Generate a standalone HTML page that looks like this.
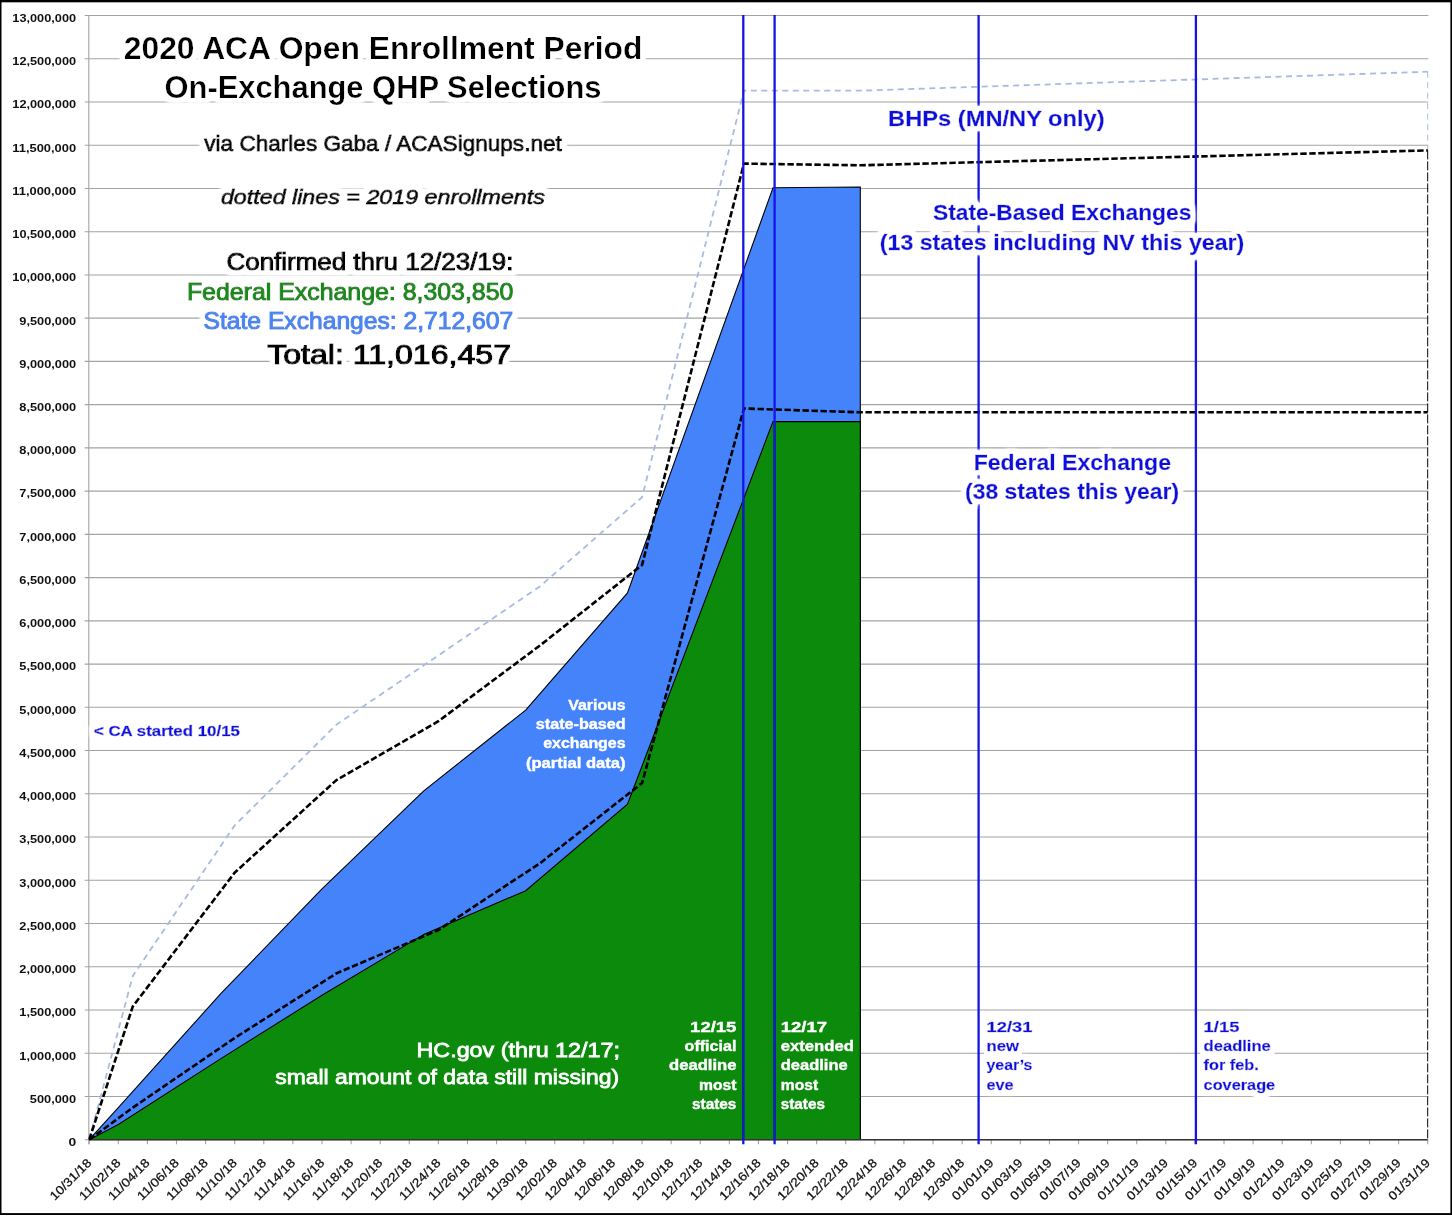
<!DOCTYPE html>
<html lang="en"><head><meta charset="utf-8">
<title>2020 ACA Open Enrollment Period On-Exchange QHP Selections</title>
<style>
html,body{margin:0;padding:0;background:#fff;}
body{width:1452px;height:1216px;overflow:hidden;}
svg{display:block;}
text{font-family:"Liberation Sans",sans-serif;}
.yl{font-size:11.8px;font-weight:bold;fill:#111;text-anchor:end;}
.xl{font-size:12.2px;fill:#111;stroke:#111;stroke-width:0.25px;text-anchor:end;}
.hal{filter:url(#halo);}
.bk{fill:#000;}
.nv{fill:#1010dc;}
.wh{fill:#fff;}
.b{font-weight:bold;}
</style></head><body>
<svg width="1452" height="1216" viewBox="0 0 1452 1216">
<defs>
<filter id="halo" x="-5%" y="-40%" width="110%" height="180%">
<feMorphology in="SourceAlpha" operator="dilate" radius="4.2" result="d"/>
<feGaussianBlur in="d" stdDeviation="1.6" result="bl"/>
<feComponentTransfer in="bl" result="bo"><feFuncA type="linear" slope="2.2" intercept="0"/></feComponentTransfer>
<feFlood flood-color="#ffffff" result="w"/>
<feComposite in="w" in2="bo" operator="in" result="h"/>
<feMerge><feMergeNode in="h"/><feMergeNode in="SourceGraphic"/></feMerge>
</filter>
<clipPath id="plot"><rect x="88.2" y="14.5" width="1340.7" height="1126.7"/></clipPath>
</defs>
<rect x="0" y="0" width="1452" height="1216" fill="#fff"/>
<g stroke="#a3a3a3" stroke-width="1.1" fill="none">
<line x1="84.7" y1="1139.70" x2="1428.3" y2="1139.70"/>
<line x1="84.7" y1="1096.46" x2="1428.3" y2="1096.46"/>
<line x1="84.7" y1="1053.22" x2="1428.3" y2="1053.22"/>
<line x1="84.7" y1="1009.98" x2="1428.3" y2="1009.98"/>
<line x1="84.7" y1="966.75" x2="1428.3" y2="966.75"/>
<line x1="84.7" y1="923.51" x2="1428.3" y2="923.51"/>
<line x1="84.7" y1="880.27" x2="1428.3" y2="880.27"/>
<line x1="84.7" y1="837.03" x2="1428.3" y2="837.03"/>
<line x1="84.7" y1="793.79" x2="1428.3" y2="793.79"/>
<line x1="84.7" y1="750.55" x2="1428.3" y2="750.55"/>
<line x1="84.7" y1="707.32" x2="1428.3" y2="707.32"/>
<line x1="84.7" y1="664.08" x2="1428.3" y2="664.08"/>
<line x1="84.7" y1="620.84" x2="1428.3" y2="620.84"/>
<line x1="84.7" y1="577.60" x2="1428.3" y2="577.60"/>
<line x1="84.7" y1="534.36" x2="1428.3" y2="534.36"/>
<line x1="84.7" y1="491.12" x2="1428.3" y2="491.12"/>
<line x1="84.7" y1="447.88" x2="1428.3" y2="447.88"/>
<line x1="84.7" y1="404.65" x2="1428.3" y2="404.65"/>
<line x1="84.7" y1="361.41" x2="1428.3" y2="361.41"/>
<line x1="84.7" y1="318.17" x2="1428.3" y2="318.17"/>
<line x1="84.7" y1="274.93" x2="1428.3" y2="274.93"/>
<line x1="84.7" y1="231.69" x2="1428.3" y2="231.69"/>
<line x1="84.7" y1="188.45" x2="1428.3" y2="188.45"/>
<line x1="84.7" y1="145.22" x2="1428.3" y2="145.22"/>
<line x1="84.7" y1="101.98" x2="1428.3" y2="101.98"/>
<line x1="84.7" y1="58.74" x2="1428.3" y2="58.74"/>
<line x1="84.7" y1="15.50" x2="1428.3" y2="15.50"/>
<line x1="88.8" y1="15.5" x2="88.8" y2="1144.2"/>
<line x1="89.20" y1="1139.7" x2="89.20" y2="1144.3"/>
<line x1="118.30" y1="1139.7" x2="118.30" y2="1144.3"/>
<line x1="147.40" y1="1139.7" x2="147.40" y2="1144.3"/>
<line x1="176.49" y1="1139.7" x2="176.49" y2="1144.3"/>
<line x1="205.59" y1="1139.7" x2="205.59" y2="1144.3"/>
<line x1="234.69" y1="1139.7" x2="234.69" y2="1144.3"/>
<line x1="263.79" y1="1139.7" x2="263.79" y2="1144.3"/>
<line x1="292.88" y1="1139.7" x2="292.88" y2="1144.3"/>
<line x1="321.98" y1="1139.7" x2="321.98" y2="1144.3"/>
<line x1="351.08" y1="1139.7" x2="351.08" y2="1144.3"/>
<line x1="380.18" y1="1139.7" x2="380.18" y2="1144.3"/>
<line x1="409.28" y1="1139.7" x2="409.28" y2="1144.3"/>
<line x1="438.37" y1="1139.7" x2="438.37" y2="1144.3"/>
<line x1="467.47" y1="1139.7" x2="467.47" y2="1144.3"/>
<line x1="496.57" y1="1139.7" x2="496.57" y2="1144.3"/>
<line x1="525.67" y1="1139.7" x2="525.67" y2="1144.3"/>
<line x1="554.77" y1="1139.7" x2="554.77" y2="1144.3"/>
<line x1="583.86" y1="1139.7" x2="583.86" y2="1144.3"/>
<line x1="612.96" y1="1139.7" x2="612.96" y2="1144.3"/>
<line x1="642.06" y1="1139.7" x2="642.06" y2="1144.3"/>
<line x1="671.16" y1="1139.7" x2="671.16" y2="1144.3"/>
<line x1="700.25" y1="1139.7" x2="700.25" y2="1144.3"/>
<line x1="729.35" y1="1139.7" x2="729.35" y2="1144.3"/>
<line x1="758.45" y1="1139.7" x2="758.45" y2="1144.3"/>
<line x1="787.55" y1="1139.7" x2="787.55" y2="1144.3"/>
<line x1="816.65" y1="1139.7" x2="816.65" y2="1144.3"/>
<line x1="845.74" y1="1139.7" x2="845.74" y2="1144.3"/>
<line x1="874.84" y1="1139.7" x2="874.84" y2="1144.3"/>
<line x1="903.94" y1="1139.7" x2="903.94" y2="1144.3"/>
<line x1="933.04" y1="1139.7" x2="933.04" y2="1144.3"/>
<line x1="962.13" y1="1139.7" x2="962.13" y2="1144.3"/>
<line x1="991.23" y1="1139.7" x2="991.23" y2="1144.3"/>
<line x1="1020.33" y1="1139.7" x2="1020.33" y2="1144.3"/>
<line x1="1049.43" y1="1139.7" x2="1049.43" y2="1144.3"/>
<line x1="1078.53" y1="1139.7" x2="1078.53" y2="1144.3"/>
<line x1="1107.62" y1="1139.7" x2="1107.62" y2="1144.3"/>
<line x1="1136.72" y1="1139.7" x2="1136.72" y2="1144.3"/>
<line x1="1165.82" y1="1139.7" x2="1165.82" y2="1144.3"/>
<line x1="1194.92" y1="1139.7" x2="1194.92" y2="1144.3"/>
<line x1="1224.02" y1="1139.7" x2="1224.02" y2="1144.3"/>
<line x1="1253.11" y1="1139.7" x2="1253.11" y2="1144.3"/>
<line x1="1282.21" y1="1139.7" x2="1282.21" y2="1144.3"/>
<line x1="1311.31" y1="1139.7" x2="1311.31" y2="1144.3"/>
<line x1="1340.41" y1="1139.7" x2="1340.41" y2="1144.3"/>
<line x1="1369.50" y1="1139.7" x2="1369.50" y2="1144.3"/>
<line x1="1398.60" y1="1139.7" x2="1398.60" y2="1144.3"/>
<line x1="1427.70" y1="1139.7" x2="1427.70" y2="1144.3"/>
</g>
<polygon points="89.2,1139.7 118.3,1107.7 220.1,994.4 322.0,888.9 423.8,790.8 525.7,710.1 627.5,592.9 773.0,187.8 860.3,187.0 860.3,1139.7 89.2,1139.7" fill="#4483fa"/>
<polyline points="89.2,1139.7 118.3,1107.7 220.1,994.4 322.0,888.9 423.8,790.8 525.7,710.1 627.5,592.9 773.0,187.8 860.3,187.0 860.3,1139.7" fill="none" stroke="#000" stroke-width="1.1"/>
<polygon points="89.2,1139.7 118.3,1124.4 220.1,1059.1 322.0,995.3 423.8,934.4 525.7,890.7 627.5,804.2 773.0,421.6 860.3,421.6 860.3,1139.7 89.2,1139.7" fill="#0b8a0b"/>
<polyline points="89.2,1139.7 118.3,1124.4 220.1,1059.1 322.0,995.3 423.8,934.4 525.7,890.7 627.5,804.2 773.0,421.6 860.3,421.6 860.3,1139.7" fill="none" stroke="#000" stroke-width="1.1"/>
<line x1="89.2" y1="1139.8" x2="1427.7" y2="1139.8" stroke="#333" stroke-width="1.4"/>
<g fill="none" clip-path="url(#plot)">
<polyline points="89.2,1139.7 132.8,975.9 234.7,825.4 336.5,724.6 438.4,655.4 540.2,586.2 642.1,497.2 743.9,90.7 860.3,90.7 1427.7,71.7" stroke="#a7bae2" stroke-width="1.8" stroke-dasharray="6 4.5"/>
<polyline points="1427.7,71.7 1427.7,150.4" stroke="#a7bae2" stroke-width="1" stroke-dasharray="6 4.5"/>
<polyline points="1427.7,150.4 1427.7,1139.7" stroke="#000" stroke-width="1" stroke-dasharray="9 2"/>
<polyline points="89.2,1139.7 132.8,1006.4 234.7,872.6 336.5,780.0 438.4,721.2 540.2,645.3 642.1,564.9 743.9,163.6 860.3,165.3 1427.7,150.4" stroke="#000" stroke-width="2.6" stroke-dasharray="6.4 2.6"/>
<polyline points="89.2,1139.7 132.8,1107.6 234.7,1038.0 336.5,973.3 438.4,930.0 540.2,863.1 642.1,783.0 743.9,408.5 860.3,412.3 1427.7,412.3" stroke="#000" stroke-width="2.6" stroke-dasharray="6.4 2.6"/>
</g>
<g stroke="#1414e6" stroke-width="2.3">
<line x1="743.3" y1="15.0" x2="743.3" y2="1144.2"/>
<line x1="774.6" y1="15.0" x2="774.6" y2="1144.2"/>
<line x1="978.6" y1="15.0" x2="978.6" y2="1144.2"/>
<line x1="1195.9" y1="15.0" x2="1195.9" y2="1144.2"/>
</g>
<g stroke="#0c22b0" stroke-width="2.3">
<line x1="743.3" y1="499" x2="743.3" y2="1139.7"/>
<line x1="774.6" y1="422.5" x2="774.6" y2="1139.7"/>
</g>
<g class="yl">
<text x="76.1" y="1146.0" textLength="7.7" lengthAdjust="spacingAndGlyphs">0</text>
<text x="76.1" y="1102.8" textLength="46.3" lengthAdjust="spacingAndGlyphs">500,000</text>
<text x="76.1" y="1059.5" textLength="56.8" lengthAdjust="spacingAndGlyphs">1,000,000</text>
<text x="76.1" y="1016.3" textLength="56.8" lengthAdjust="spacingAndGlyphs">1,500,000</text>
<text x="76.1" y="973.0" textLength="56.8" lengthAdjust="spacingAndGlyphs">2,000,000</text>
<text x="76.1" y="929.8" textLength="56.8" lengthAdjust="spacingAndGlyphs">2,500,000</text>
<text x="76.1" y="886.6" textLength="56.8" lengthAdjust="spacingAndGlyphs">3,000,000</text>
<text x="76.1" y="843.3" textLength="56.8" lengthAdjust="spacingAndGlyphs">3,500,000</text>
<text x="76.1" y="800.1" textLength="56.8" lengthAdjust="spacingAndGlyphs">4,000,000</text>
<text x="76.1" y="756.9" textLength="56.8" lengthAdjust="spacingAndGlyphs">4,500,000</text>
<text x="76.1" y="713.6" textLength="56.8" lengthAdjust="spacingAndGlyphs">5,000,000</text>
<text x="76.1" y="670.4" textLength="56.8" lengthAdjust="spacingAndGlyphs">5,500,000</text>
<text x="76.1" y="627.1" textLength="56.8" lengthAdjust="spacingAndGlyphs">6,000,000</text>
<text x="76.1" y="583.9" textLength="56.8" lengthAdjust="spacingAndGlyphs">6,500,000</text>
<text x="76.1" y="540.7" textLength="56.8" lengthAdjust="spacingAndGlyphs">7,000,000</text>
<text x="76.1" y="497.4" textLength="56.8" lengthAdjust="spacingAndGlyphs">7,500,000</text>
<text x="76.1" y="454.2" textLength="56.8" lengthAdjust="spacingAndGlyphs">8,000,000</text>
<text x="76.1" y="410.9" textLength="56.8" lengthAdjust="spacingAndGlyphs">8,500,000</text>
<text x="76.1" y="367.7" textLength="56.8" lengthAdjust="spacingAndGlyphs">9,000,000</text>
<text x="76.1" y="324.5" textLength="56.8" lengthAdjust="spacingAndGlyphs">9,500,000</text>
<text x="76.1" y="281.2" textLength="63.8" lengthAdjust="spacingAndGlyphs">10,000,000</text>
<text x="76.1" y="238.0" textLength="63.8" lengthAdjust="spacingAndGlyphs">10,500,000</text>
<text x="76.1" y="194.8" textLength="63.8" lengthAdjust="spacingAndGlyphs">11,000,000</text>
<text x="76.1" y="151.5" textLength="63.8" lengthAdjust="spacingAndGlyphs">11,500,000</text>
<text x="76.1" y="108.3" textLength="63.8" lengthAdjust="spacingAndGlyphs">12,000,000</text>
<text x="76.1" y="65.0" textLength="63.8" lengthAdjust="spacingAndGlyphs">12,500,000</text>
<text x="76.1" y="21.8" textLength="63.8" lengthAdjust="spacingAndGlyphs">13,000,000</text>
</g>
<g class="xl">
<text transform="translate(92.3,1163.6) rotate(-45)" textLength="53" lengthAdjust="spacingAndGlyphs">10/31/18</text>
<text transform="translate(121.4,1163.6) rotate(-45)" textLength="53" lengthAdjust="spacingAndGlyphs">11/02/18</text>
<text transform="translate(150.5,1163.6) rotate(-45)" textLength="53" lengthAdjust="spacingAndGlyphs">11/04/18</text>
<text transform="translate(179.6,1163.6) rotate(-45)" textLength="53" lengthAdjust="spacingAndGlyphs">11/06/18</text>
<text transform="translate(208.7,1163.6) rotate(-45)" textLength="53" lengthAdjust="spacingAndGlyphs">11/08/18</text>
<text transform="translate(237.8,1163.6) rotate(-45)" textLength="53" lengthAdjust="spacingAndGlyphs">11/10/18</text>
<text transform="translate(266.9,1163.6) rotate(-45)" textLength="53" lengthAdjust="spacingAndGlyphs">11/12/18</text>
<text transform="translate(296.0,1163.6) rotate(-45)" textLength="53" lengthAdjust="spacingAndGlyphs">11/14/18</text>
<text transform="translate(325.1,1163.6) rotate(-45)" textLength="53" lengthAdjust="spacingAndGlyphs">11/16/18</text>
<text transform="translate(354.2,1163.6) rotate(-45)" textLength="53" lengthAdjust="spacingAndGlyphs">11/18/18</text>
<text transform="translate(383.3,1163.6) rotate(-45)" textLength="53" lengthAdjust="spacingAndGlyphs">11/20/18</text>
<text transform="translate(412.4,1163.6) rotate(-45)" textLength="53" lengthAdjust="spacingAndGlyphs">11/22/18</text>
<text transform="translate(441.5,1163.6) rotate(-45)" textLength="53" lengthAdjust="spacingAndGlyphs">11/24/18</text>
<text transform="translate(470.6,1163.6) rotate(-45)" textLength="53" lengthAdjust="spacingAndGlyphs">11/26/18</text>
<text transform="translate(499.7,1163.6) rotate(-45)" textLength="53" lengthAdjust="spacingAndGlyphs">11/28/18</text>
<text transform="translate(528.8,1163.6) rotate(-45)" textLength="53" lengthAdjust="spacingAndGlyphs">11/30/18</text>
<text transform="translate(557.9,1163.6) rotate(-45)" textLength="53" lengthAdjust="spacingAndGlyphs">12/02/18</text>
<text transform="translate(587.0,1163.6) rotate(-45)" textLength="53" lengthAdjust="spacingAndGlyphs">12/04/18</text>
<text transform="translate(616.1,1163.6) rotate(-45)" textLength="53" lengthAdjust="spacingAndGlyphs">12/06/18</text>
<text transform="translate(645.2,1163.6) rotate(-45)" textLength="53" lengthAdjust="spacingAndGlyphs">12/08/18</text>
<text transform="translate(674.3,1163.6) rotate(-45)" textLength="53" lengthAdjust="spacingAndGlyphs">12/10/18</text>
<text transform="translate(703.4,1163.6) rotate(-45)" textLength="53" lengthAdjust="spacingAndGlyphs">12/12/18</text>
<text transform="translate(732.5,1163.6) rotate(-45)" textLength="53" lengthAdjust="spacingAndGlyphs">12/14/18</text>
<text transform="translate(761.6,1163.6) rotate(-45)" textLength="53" lengthAdjust="spacingAndGlyphs">12/16/18</text>
<text transform="translate(790.6,1163.6) rotate(-45)" textLength="53" lengthAdjust="spacingAndGlyphs">12/18/18</text>
<text transform="translate(819.7,1163.6) rotate(-45)" textLength="53" lengthAdjust="spacingAndGlyphs">12/20/18</text>
<text transform="translate(848.8,1163.6) rotate(-45)" textLength="53" lengthAdjust="spacingAndGlyphs">12/22/18</text>
<text transform="translate(877.9,1163.6) rotate(-45)" textLength="53" lengthAdjust="spacingAndGlyphs">12/24/18</text>
<text transform="translate(907.0,1163.6) rotate(-45)" textLength="53" lengthAdjust="spacingAndGlyphs">12/26/18</text>
<text transform="translate(936.1,1163.6) rotate(-45)" textLength="53" lengthAdjust="spacingAndGlyphs">12/28/18</text>
<text transform="translate(965.2,1163.6) rotate(-45)" textLength="53" lengthAdjust="spacingAndGlyphs">12/30/18</text>
<text transform="translate(994.3,1163.6) rotate(-45)" textLength="53" lengthAdjust="spacingAndGlyphs">01/01/19</text>
<text transform="translate(1023.4,1163.6) rotate(-45)" textLength="53" lengthAdjust="spacingAndGlyphs">01/03/19</text>
<text transform="translate(1052.5,1163.6) rotate(-45)" textLength="53" lengthAdjust="spacingAndGlyphs">01/05/19</text>
<text transform="translate(1081.6,1163.6) rotate(-45)" textLength="53" lengthAdjust="spacingAndGlyphs">01/07/19</text>
<text transform="translate(1110.7,1163.6) rotate(-45)" textLength="53" lengthAdjust="spacingAndGlyphs">01/09/19</text>
<text transform="translate(1139.8,1163.6) rotate(-45)" textLength="53" lengthAdjust="spacingAndGlyphs">01/11/19</text>
<text transform="translate(1168.9,1163.6) rotate(-45)" textLength="53" lengthAdjust="spacingAndGlyphs">01/13/19</text>
<text transform="translate(1198.0,1163.6) rotate(-45)" textLength="53" lengthAdjust="spacingAndGlyphs">01/15/19</text>
<text transform="translate(1227.1,1163.6) rotate(-45)" textLength="53" lengthAdjust="spacingAndGlyphs">01/17/19</text>
<text transform="translate(1256.2,1163.6) rotate(-45)" textLength="53" lengthAdjust="spacingAndGlyphs">01/19/19</text>
<text transform="translate(1285.3,1163.6) rotate(-45)" textLength="53" lengthAdjust="spacingAndGlyphs">01/21/19</text>
<text transform="translate(1314.4,1163.6) rotate(-45)" textLength="53" lengthAdjust="spacingAndGlyphs">01/23/19</text>
<text transform="translate(1343.5,1163.6) rotate(-45)" textLength="53" lengthAdjust="spacingAndGlyphs">01/25/19</text>
<text transform="translate(1372.6,1163.6) rotate(-45)" textLength="53" lengthAdjust="spacingAndGlyphs">01/27/19</text>
<text transform="translate(1401.7,1163.6) rotate(-45)" textLength="53" lengthAdjust="spacingAndGlyphs">01/29/19</text>
<text transform="translate(1430.8,1163.6) rotate(-45)" textLength="53" lengthAdjust="spacingAndGlyphs">01/31/19</text>
</g>
<text class="bk b hal" x="123.8" y="59.3" font-size="30.6" textLength="518.6" lengthAdjust="spacingAndGlyphs">2020 ACA Open Enrollment Period</text>
<text class="bk b hal" x="164.5" y="98.1" font-size="30.6" textLength="437.0" lengthAdjust="spacingAndGlyphs">On-Exchange QHP Selections</text>
<text class="bk hal" x="204.3" y="150.6" font-size="21.8" textLength="357.5" lengthAdjust="spacingAndGlyphs" stroke="#000" stroke-width="1.00">via Charles Gaba / ACASignups.net</text>
<text class="bk hal" x="220.9" y="203.9" font-size="21.0" textLength="324.0" lengthAdjust="spacingAndGlyphs" stroke="#000" stroke-width="0.90" font-style="italic">dotted lines = 2019 enrollments</text>
<text class="bk hal" x="226.5" y="270.2" font-size="23.0" textLength="286.9" lengthAdjust="spacingAndGlyphs" stroke="#000" stroke-width="1.10">Confirmed thru 12/23/19:</text>
<g fill="#178a17">
<text class=" hal" x="186.9" y="299.5" font-size="23.2" textLength="326.5" lengthAdjust="spacingAndGlyphs" stroke="#178a17" stroke-width="1.10">Federal Exchange: 8,303,850</text>
</g><g fill="#4a86ee">
<text class=" hal" x="203.5" y="328.5" font-size="23.2" textLength="309.7" lengthAdjust="spacingAndGlyphs" stroke="#4a86ee" stroke-width="1.10">State Exchanges: 2,712,607</text>
</g>
<text class="bk hal" x="267.2" y="364.0" font-size="27.8" textLength="243.8" lengthAdjust="spacingAndGlyphs" stroke="#000" stroke-width="1.20">Total: 11,016,457</text>
<text class="nv b hal" x="888.1" y="125.8" font-size="22.0" textLength="216.5" lengthAdjust="spacingAndGlyphs" stroke="#1010dc" stroke-width="0.35">BHPs (MN/NY only)</text>
<text class="nv b hal" x="933.0" y="220.0" font-size="22.0" textLength="258.4" lengthAdjust="spacingAndGlyphs" stroke="#1010dc" stroke-width="0.35">State-Based Exchanges</text>
<text class="nv b hal" x="879.8" y="249.8" font-size="22.0" textLength="364.5" lengthAdjust="spacingAndGlyphs" stroke="#1010dc" stroke-width="0.35">(13 states including NV this year)</text>
<text class="nv b hal" x="973.7" y="469.5" font-size="22.0" textLength="197.3" lengthAdjust="spacingAndGlyphs" stroke="#1010dc" stroke-width="0.35">Federal Exchange</text>
<text class="nv b hal" x="965.1" y="498.5" font-size="22.0" textLength="214.0" lengthAdjust="spacingAndGlyphs" stroke="#1010dc" stroke-width="0.35">(38 states this year)</text>
<text class="nv b hal" x="93.9" y="735.7" font-size="15.0" textLength="146.0" lengthAdjust="spacingAndGlyphs" stroke="#1010dc" stroke-width="0.50">&lt; CA started 10/15</text>
<text class="wh b" x="568.3" y="710.3" font-size="14.0" textLength="57.3" lengthAdjust="spacingAndGlyphs" stroke="#fff" stroke-width="0.40">Various</text>
<text class="wh b" x="535.8" y="729.4" font-size="14.0" textLength="89.8" lengthAdjust="spacingAndGlyphs" stroke="#fff" stroke-width="0.40">state-based</text>
<text class="wh b" x="543.2" y="748.3" font-size="14.0" textLength="82.4" lengthAdjust="spacingAndGlyphs" stroke="#fff" stroke-width="0.40">exchanges</text>
<text class="wh b" x="525.9" y="768.2" font-size="14.0" textLength="99.7" lengthAdjust="spacingAndGlyphs" stroke="#fff" stroke-width="0.40">(partial data)</text>
<text class="wh" x="416.5" y="1057.2" font-size="21.0" textLength="203.4" lengthAdjust="spacingAndGlyphs" stroke="#fff" stroke-width="0.80">HC.gov (thru 12/17;</text>
<text class="wh" x="275.2" y="1083.6" font-size="21.0" textLength="343.9" lengthAdjust="spacingAndGlyphs" stroke="#fff" stroke-width="0.80">small amount of data still missing)</text>
<text class="wh b" x="690.1" y="1031.7" font-size="14.6" textLength="46.3" lengthAdjust="spacingAndGlyphs" stroke="#fff" stroke-width="0.40">12/15</text>
<text class="wh b" x="684.6" y="1050.7" font-size="14.6" textLength="51.8" lengthAdjust="spacingAndGlyphs" stroke="#fff" stroke-width="0.40">official</text>
<text class="wh b" x="669.0" y="1070.0" font-size="14.6" textLength="67.4" lengthAdjust="spacingAndGlyphs" stroke="#fff" stroke-width="0.40">deadline</text>
<text class="wh b" x="699.0" y="1089.6" font-size="14.6" textLength="37.4" lengthAdjust="spacingAndGlyphs" stroke="#fff" stroke-width="0.40">most</text>
<text class="wh b" x="692.1" y="1108.9" font-size="14.6" textLength="44.3" lengthAdjust="spacingAndGlyphs" stroke="#fff" stroke-width="0.40">states</text>
<text class="wh b" x="780.8" y="1031.7" font-size="14.6" textLength="46.2" lengthAdjust="spacingAndGlyphs" stroke="#fff" stroke-width="0.40">12/17</text>
<text class="wh b" x="780.8" y="1050.7" font-size="14.6" textLength="73.0" lengthAdjust="spacingAndGlyphs" stroke="#fff" stroke-width="0.40">extended</text>
<text class="wh b" x="780.8" y="1070.0" font-size="14.6" textLength="66.9" lengthAdjust="spacingAndGlyphs" stroke="#fff" stroke-width="0.40">deadline</text>
<text class="wh b" x="780.8" y="1089.6" font-size="14.6" textLength="37.3" lengthAdjust="spacingAndGlyphs" stroke="#fff" stroke-width="0.40">most</text>
<text class="wh b" x="780.8" y="1108.9" font-size="14.6" textLength="44.1" lengthAdjust="spacingAndGlyphs" stroke="#fff" stroke-width="0.40">states</text>
<text class="nv b hal" x="986.5" y="1031.7" font-size="14.6" textLength="45.9" lengthAdjust="spacingAndGlyphs" stroke="#1010dc" stroke-width="0.40">12/31</text>
<text class="nv b hal" x="986.5" y="1050.7" font-size="14.6" textLength="32.4" lengthAdjust="spacingAndGlyphs" stroke="#1010dc" stroke-width="0.40">new</text>
<text class="nv b hal" x="986.5" y="1070.0" font-size="14.6" textLength="45.9" lengthAdjust="spacingAndGlyphs" stroke="#1010dc" stroke-width="0.40">year’s</text>
<text class="nv b hal" x="986.5" y="1089.6" font-size="14.6" textLength="27.1" lengthAdjust="spacingAndGlyphs" stroke="#1010dc" stroke-width="0.40">eve</text>
<text class="nv b hal" x="1203.6" y="1031.7" font-size="14.6" textLength="35.9" lengthAdjust="spacingAndGlyphs" stroke="#1010dc" stroke-width="0.40">1/15</text>
<text class="nv b hal" x="1203.6" y="1050.7" font-size="14.6" textLength="67.2" lengthAdjust="spacingAndGlyphs" stroke="#1010dc" stroke-width="0.40">deadline</text>
<text class="nv b hal" x="1203.6" y="1070.0" font-size="14.6" textLength="55.1" lengthAdjust="spacingAndGlyphs" stroke="#1010dc" stroke-width="0.40">for feb.</text>
<text class="nv b hal" x="1203.6" y="1089.6" font-size="14.6" textLength="71.6" lengthAdjust="spacingAndGlyphs" stroke="#1010dc" stroke-width="0.40">coverage</text>
<g fill="#000">
<rect x="0" y="0" width="1452" height="2.3"/>
<rect x="0" y="0" width="1.5" height="1215"/>
<rect x="1450.4" y="0" width="1.6" height="1215"/>
<rect x="0" y="1213.1" width="1452" height="1.9"/>
</g>
</svg></body></html>
